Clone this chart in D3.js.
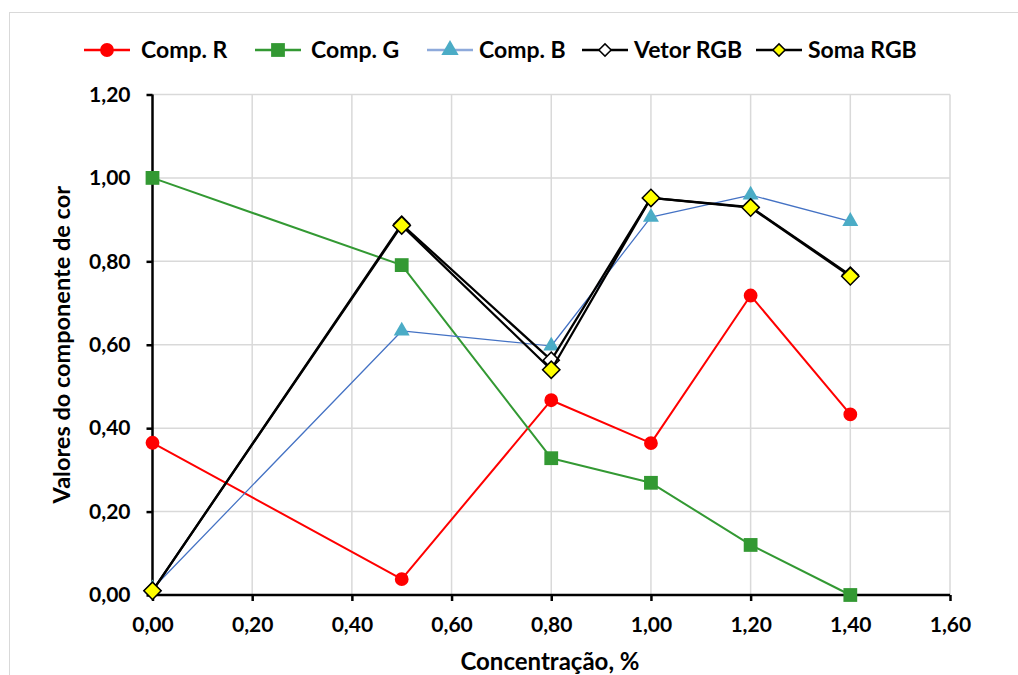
<!DOCTYPE html>
<html>
<head>
<meta charset="utf-8">
<script src="https://cdn.jsdelivr.net/npm/d3@7/dist/d3.min.js"></script>
<style>
  html, body { margin: 0; padding: 0; background: #fff; }
  svg { display: block; font-family: Lato, "Open Sans", sans-serif; font-weight: 700; }
</style>
</head>
<body>
<svg id="chart" width="1018" height="675"></svg>
<script>
// Concentração (%) on the x axis
const concentrations = [0.0, 0.5, 0.8, 1.0, 1.2, 1.4];

// Colour-component values per concentration
const compR    = [0.365, 0.038, 0.467, 0.364, 0.718, 0.433];
const compG    = [1.000, 0.791, 0.328, 0.269, 0.120, 0.000];
const compB    = [0.015, 0.633, 0.597, 0.906, 0.959, 0.896];
const vetorRGB = [0.010, 0.889, 0.563, 0.952, 0.930, 0.767];
const somaRGB  = [0.010, 0.886, 0.540, 0.952, 0.929, 0.764];

const seriesNames = ["Comp. R", "Comp. G", "Comp. B", "Vetor RGB", "Soma RGB"];

// Axis ticks
const xTicks = [0.0, 0.2, 0.4, 0.6, 0.8, 1.0, 1.2, 1.4, 1.6];
const yTicks = [0.0, 0.2, 0.4, 0.6, 0.8, 1.0, 1.2];

const xTitle = "Concentração, %";
const yTitle = "Valores do componente de cor";

const fmt = v => v.toFixed(2).replace(".", ",");

const svg = d3.select("#chart");

// Outer chart frame
svg.append("rect")
  .attr("x", 9.5).attr("y", 12.5)
  .attr("width", 1100).attr("height", 700)
  .attr("fill", "#fff").attr("stroke", "#d9d9d9").attr("stroke-width", 1);

const plot = { left: 152.5, right: 950, top: 94.5, bottom: 595 };

const x = d3.scaleLinear().domain([0, 1.6]).range([plot.left, plot.right]);
const y = d3.scaleLinear().domain([0, 1.2]).range([plot.bottom, plot.top]);

// Gridlines
const grid = svg.append("g").attr("stroke", "#d9d9d9").attr("stroke-width", 1.5);
grid.selectAll("line.v").data(xTicks.filter(t => t > 0)).join("line")
  .attr("x1", d => x(d)).attr("x2", d => x(d))
  .attr("y1", plot.top).attr("y2", plot.bottom);
grid.selectAll("line.h").data(yTicks.filter(t => t > 0)).join("line")
  .attr("x1", plot.left).attr("x2", plot.right)
  .attr("y1", d => y(d)).attr("y2", d => y(d));

// Axes
const xAxis = d3.axisBottom(x).tickValues(xTicks).tickFormat(fmt).tickSize(6).tickPadding(16);
const yAxis = d3.axisLeft(y).tickValues(yTicks).tickFormat(fmt).tickSize(6).tickPadding(16);

const gx = svg.append("g").attr("transform", `translate(0,${plot.bottom})`).call(xAxis);
const gy = svg.append("g").attr("transform", `translate(${plot.left},0)`).call(yAxis);

[gx, gy].forEach(g => {
  g.select(".domain").attr("stroke", "#000").attr("stroke-width", 2.5);
  g.selectAll(".tick line").attr("stroke", "#000").attr("stroke-width", 2.5);
  g.selectAll(".tick text")
    .attr("fill", "#000")
    .style("font-family", "Lato, sans-serif")
    .style("font-weight", 700)
    .style("font-size", "21px");
});
gx.select(".domain").attr("d", `M${plot.left},0H${plot.right}`);
gy.select(".domain").attr("d", `M0,${plot.bottom}V${plot.top}`);

// Axis titles
svg.append("text")
  .attr("x", 550).attr("y", 670)
  .attr("text-anchor", "middle").attr("font-size", 24).attr("fill", "#000")
  .text(xTitle);

svg.append("text")
  .attr("transform", `translate(70,${(plot.top + plot.bottom) / 2}) rotate(-90)`)
  .attr("text-anchor", "middle").attr("font-size", 23.5).attr("fill", "#000")
  .text(yTitle);

// Series styling
const series = [
  { name: seriesNames[0], values: compR,    line: "#ff0000", width: 2,    marker: "circle",   fill: "#ff0000", stroke: "none" },
  { name: seriesNames[1], values: compG,    line: "#339933", width: 2,    marker: "square",   fill: "#339933", stroke: "none" },
  { name: seriesNames[2], values: compB,    line: "#4472c4", width: 1.25, marker: "triangle", fill: "#4bacc6", stroke: "none" },
  { name: seriesNames[3], values: vetorRGB, line: "#000000", width: 2.25, marker: "diamond",  fill: "#ffffff", stroke: "#000", size: 130 },
  { name: seriesNames[4], values: somaRGB,  line: "#000000", width: 2.25, marker: "diamond",  fill: "#ffff00", stroke: "#000", size: 150 }
];

const symbolFor = s => {
  switch (s.marker) {
    case "circle":   return d3.symbol().type(d3.symbolCircle).size(150);
    case "square":   return d3.symbol().type(d3.symbolSquare).size(190);
    case "triangle": return d3.symbol().type(d3.symbolTriangle).size(110);
    case "diamond":  return d3.symbol().type(d3.symbolSquare).size(s.size);
  }
};

const line = d3.line().x(d => x(d.x)).y(d => y(d.y));

series.forEach(s => {
  const pts = concentrations.map((c, i) => ({ x: c, y: s.values[i] }));
  const g = svg.append("g");
  g.append("path").datum(pts)
    .attr("d", line).attr("fill", "none")
    .attr("stroke", s.line).attr("stroke-width", s.width)
    .attr("stroke-linejoin", "round");
  g.selectAll("path.m").data(pts).join("path")
    .attr("class", "m")
    .attr("d", symbolFor(s))
    .attr("transform", d => `translate(${x(d.x)},${y(d.y)})` + (s.marker === "diamond" ? " rotate(45)" : ""))
    .attr("fill", s.fill)
    .attr("stroke", s.stroke)
    .attr("stroke-width", s.stroke === "none" ? 0 : 1.5);
});

// Legend: line sample start and label start for each entry
const legendY = 50;
const legendLineX = [84, 255, 427, 582, 756];
const legendTextX = [141, 311, 479, 634, 808];
const legend = svg.append("g");
series.forEach((s, i) => {
  const g = legend.append("g").attr("transform", `translate(0,${legendY})`);
  const x0 = legendLineX[i];
  g.append("line").attr("x1", x0).attr("x2", x0 + 46).attr("y1", 0).attr("y2", 0)
    .attr("stroke", s.marker === "triangle" ? "#8eaadb" : s.line)
    .attr("stroke-width", 2.5);
  const sym = s.marker === "diamond"
    ? d3.symbol().type(d3.symbolSquare).size(75)
    : (s.marker === "circle" ? d3.symbol().type(d3.symbolCircle).size(150)
    : (s.marker === "square" ? d3.symbol().type(d3.symbolSquare).size(190)
    : d3.symbol().type(d3.symbolTriangle).size(130)));
  g.append("path").attr("d", sym)
    .attr("transform", `translate(${x0 + 23},0)` + (s.marker === "diamond" ? " rotate(45)" : ""))
    .attr("fill", s.fill).attr("stroke", s.stroke)
    .attr("stroke-width", s.stroke === "none" ? 0 : 1.5);
  g.append("text").attr("x", legendTextX[i]).attr("y", 7.5)
    .attr("font-size", 23).attr("fill", "#000")
    .text(s.name);
});
</script>
</body>
</html>
